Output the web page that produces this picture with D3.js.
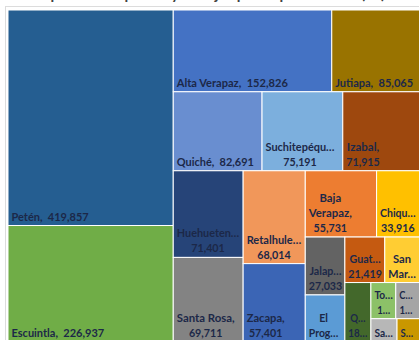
<!DOCTYPE html>
<html lang="es">
<head>
<meta charset="utf-8">
<script src="https://cdn.jsdelivr.net/npm/d3@7"></script>
<style>
  html, body { margin: 0; padding: 0; background: #fff; overflow: hidden; }
  svg { display: block; }
</style>
</head>
<body>
<svg id="chart" width="419" height="340"></svg>
<script>
// Departamentos y sus valores
const departamentos = [
  "Petén", "Escuintla", "Alta Verapaz", "Jutiapa", "Quiché", "Suchitepéquez",
  "Izabal", "Huehuetenango", "Santa Rosa", "Retalhuleu", "Zacapa", "Baja Verapaz",
  "Chiquimula", "Jalapa", "El Progreso", "Guatemala", "San Marcos", "Quetzaltenango",
  "Totonicapán", "Chimaltenango", "Sacatepéquez", "Sololá"
];
const valores = [
  419857, 226937, 152826, 85065, 82691, 75191,
  71915, 71401, 69711, 68014, 57401, 55731,
  33916, 27033, 21980, 21419, 18900, 18240,
  10600, 10320, 7180, 6310
];
const titulo = "Superficie de pastos y forrajes por departamento (ha)";

// Colores por departamento
const colores = {
  "Alta Verapaz": "#4472c4", "Baja Verapaz": "#ed7d31", "Chimaltenango": "#a5a5a5",
  "Chiquimula": "#ffc000", "El Progreso": "#5b9bd5", "Escuintla": "#70ad47",
  "Huehuetenango": "#264478", "Izabal": "#9e480e", "Jalapa": "#636363",
  "Jutiapa": "#997300", "Petén": "#255e91", "Quetzaltenango": "#43682b",
  "Quiché": "#698ed0", "Retalhuleu": "#f1975a", "Sacatepéquez": "#b7b7b7",
  "San Marcos": "#ffcd33", "Suchitepéquez": "#7cafdd", "Totonicapán": "#8cc168",
  "Guatemala": "#c55a11", "Santa Rosa": "#838383", "Sololá": "#c99700",
  "Zacapa": "#3b65b5"
};

const svg = d3.select("#chart");
const W = 419, H = 340;
const plot = { x: 8, y: 10, w: 412, h: 332 };

// marco del gráfico
svg.append("rect")
  .attr("x", 5.5).attr("y", 6.5).attr("width", 500).attr("height", 500)
  .attr("fill", "none").attr("stroke", "#dcdcdc");

// título
svg.append("text")
  .attr("x", W / 2).attr("y", -1)
  .attr("text-anchor", "middle")
  .attr("font-family", "Lato, 'Open Sans', sans-serif")
  .attr("font-weight", "bold")
  .attr("font-size", 15)
  .attr("fill", "#404040")
  .text(titulo);

// Mosaico cuadrado con proporción objetivo ajustable (se permite < 1)
function squarifyTile(ratio) {
  return function (parent, x0, y0, x1, y1) {
    const nodes = parent.children, n = nodes.length;
    let value = parent.value, i0 = 0, i1 = 0;
    while (i0 < n) {
      const dx = x1 - x0, dy = y1 - y0;
      let sum = nodes[i1++].value, minV = sum, maxV = sum;
      const alpha = Math.max(dy / dx, dx / dy) / (value * ratio);
      let beta = sum * sum * alpha;
      let minRatio = Math.max(maxV / beta, beta / minV);
      for (; i1 < n; ++i1) {
        const v = nodes[i1].value;
        const s2 = sum + v;
        const mn = Math.min(minV, v), mx = Math.max(maxV, v);
        beta = s2 * s2 * alpha;
        const r = Math.max(mx / beta, beta / mn);
        if (r > minRatio) break;
        sum = s2; minV = mn; maxV = mx; minRatio = r;
      }
      const row = { value: sum, children: nodes.slice(i0, i1) };
      if (dx < dy) d3.treemapDice(row, x0, y0, x1, value ? (y0 += dy * sum / value) : y1);
      else d3.treemapSlice(row, x0, y0, value ? (x0 += dx * sum / value) : x1, y1);
      value -= sum; i0 = i1;
    }
  };
}

const datos = departamentos.map((d, i) => ({ name: d, value: valores[i] }));
const root = d3.hierarchy({ children: datos })
  .sum(d => d.value || 0)
  .sort((a, b) => b.value - a.value);

d3.treemap()
  .tile(squarifyTile(0.9))
  .size([plot.w, plot.h])(root);

const g = svg.append("g").attr("transform", `translate(${plot.x},${plot.y})`);

const cells = g.selectAll("g.cell")
  .data(root.leaves())
  .join("g")
  .attr("class", "cell");

cells.append("rect")
  .attr("x", d => d.x0).attr("y", d => d.y0)
  .attr("width", d => Math.max(0, d.x1 - d.x0))
  .attr("height", d => Math.max(0, d.y1 - d.y0))
  .attr("fill", d => colores[d.data.name])
  .attr("stroke", "#fff")
  .attr("stroke-width", 1);

// Anchos de glifo (milésimas de em) de una sans humanista en negrita, 12 px
const anchos = {
  " ": 226, "\u00a0": 226, ",": 258, ".": 267, "\u2026": 575,
  "0": 507, "1": 507, "2": 507, "3": 507, "4": 507, "5": 507, "6": 507, "7": 507, "8": 507, "9": 507,
  A: 606, B: 561, C: 529, D: 630, E: 488, F: 459, G: 637, H: 631, I: 267, J: 331, K: 547,
  L: 423, M: 874, N: 659, O: 676, P: 532, Q: 686, R: 563, S: 473, T: 495, U: 653, V: 591,
  W: 906, X: 551, Y: 520, Z: 478,
  a: 494, b: 537, c: 418, d: 537, e: 503, f: 316, g: 474, h: 537, i: 246, j: 255, k: 480,
  l: 246, m: 813, n: 537, o: 538, p: 537, q: 537, r: 355, s: 399, t: 347, u: 537, v: 473,
  w: 745, x: 459, y: 474, z: 397, "é": 503, "á": 494
};
const kern = { "To": -60, "Ta": -50, "Ve": -40, "Va": -40 };
const EM = 12, LH = 15, FS = 11;
const PAD = 6;          // margen para líneas partidas
const PAD_UNA = 9;      // margen para la etiqueta en una sola línea
const mw = t => {
  const cs = Array.from(t);
  let s = 0;
  cs.forEach((c, i) => {
    s += anchos[c] || 500;
    if (i > 0) s += kern[cs[i - 1] + c] || 0;
  });
  return s * EM / 1000;
};
const fmt = d3.format(",");
const ELL = "\u2026";

function fitWord(word, maxW) {
  if (mw(word) <= maxW) return word;
  for (let k = word.length - 1; k >= 1; k--) {
    const t = word.slice(0, k) + ELL;
    if (mw(t) <= maxW) return t;
  }
  return word.slice(0, 1) + ELL;
}

// Nombre y valor en una línea si caben; si no, el nombre se parte por palabras
// y el valor va siempre en su propia línea
function labelLines(name, val, w, h) {
  const maxW = w - PAD;
  const maxLines = Math.max(1, Math.floor((h - 4) / LH));
  const single = name + ",\u00a0 " + val;
  if (mw(single) <= w - PAD_UNA) return [single];
  const words = name.split(" ");
  words[words.length - 1] += ",";
  const lines = [];
  let cur = "";
  words.forEach(tok => {
    const cand = cur ? cur + " " + tok : tok;
    if (cur && mw(cand) <= maxW) cur = cand;
    else if (!cur && mw(tok) <= maxW) cur = tok;
    else { if (cur) lines.push(cur); cur = fitWord(tok, maxW); }
  });
  if (cur) lines.push(cur);
  lines.push(fitWord(val, maxW));
  return lines.slice(0, maxLines);
}

cells.each(function (d) {
  const w = d.x1 - d.x0, h = d.y1 - d.y0;
  const lines = labelLines(d.data.name, fmt(d.data.value), w, h);
  const blockW = d3.max(lines, mw);
  const cx = d.x0 + 3.5 + blockW / 2;
  const yLast = d.y1 - 5;
  const sel = d3.select(this);
  lines.forEach((ln, i) => {
    const lw = mw(ln);
    sel.append("text")
      .attr("x", cx - lw / 2)
      .attr("y", yLast - (lines.length - 1 - i) * LH)
      .attr("textLength", lw)
      .attr("lengthAdjust", "spacingAndGlyphs")
      .attr("font-family", "Lato, 'Open Sans', sans-serif")
      .attr("font-weight", "bold")
      .attr("font-size", FS)
      .attr("fill", "#1c2848")
      .text(ln);
  });
});
</script>
</body>
</html>
